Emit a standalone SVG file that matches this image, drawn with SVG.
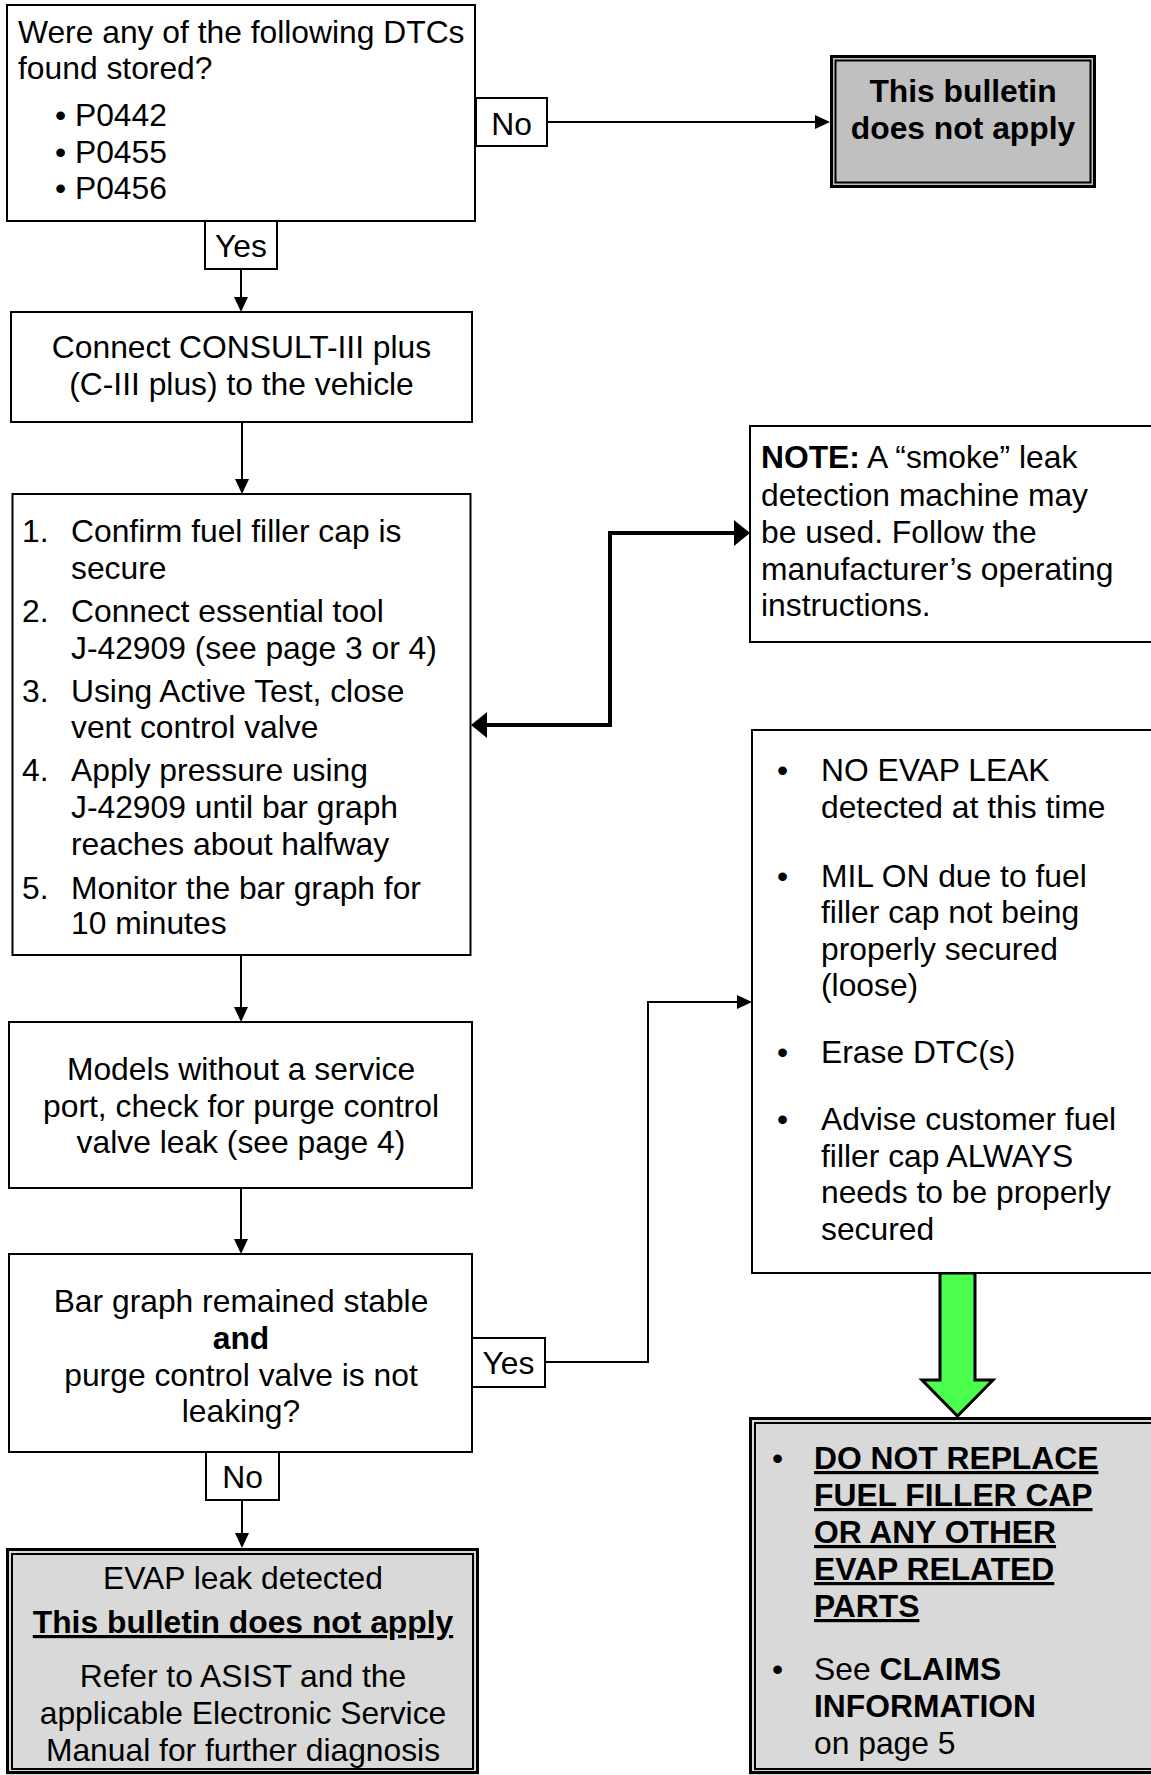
<svg xmlns="http://www.w3.org/2000/svg" width="1151" height="1775" viewBox="0 0 1151 1775">
<style>
text{font-family:"Liberation Sans",Arial,sans-serif;font-size:31.8px;fill:#000}
.c{text-anchor:middle}
.b{font-weight:bold}
.u{text-decoration:underline}
.box{fill:#fff;stroke:#000;stroke-width:2}
.lbl{fill:#fff;stroke:#000;stroke-width:2}
.thin{fill:none;stroke:#000;stroke-width:2}
.thick{fill:none;stroke:#000;stroke-width:4}
.g1{fill:#c0c0c0}
.g2{fill:#d9d9d9}
.ob{fill:none;stroke:#000;stroke-width:3}
.ib{fill:none;stroke:#000;stroke-width:2}
</style>
<defs>
<marker id="arr" markerUnits="userSpaceOnUse" viewBox="0 0 15 14" refX="0" refY="7" markerWidth="15" markerHeight="14" orient="auto">
<path d="M0,0 L15,7 L0,14 z" fill="#000"/>
</marker>
<marker id="arrT" markerUnits="userSpaceOnUse" viewBox="0 0 16 26" refX="0" refY="13" markerWidth="16" markerHeight="26" orient="auto-start-reverse">
<path d="M0,0 L16,13 L0,26 z" fill="#000"/>
</marker>
</defs>

<g id="connectors">
<path class="thin" d="M547,122 H815" marker-end="url(#arr)"/>
<path class="thin" d="M241,269 V297" marker-end="url(#arr)"/>
<path class="thin" d="M242,422 V479" marker-end="url(#arr)"/>
<path class="thin" d="M241,955 V1007" marker-end="url(#arr)"/>
<path class="thin" d="M241,1188 V1239" marker-end="url(#arr)"/>
<path class="thin" d="M242,1500 V1533" marker-end="url(#arr)"/>
<path class="thin" d="M545,1362 H648 V1002 H737" marker-end="url(#arr)"/>
<path class="thick" d="M487,725 H610 V533 H734" marker-start="url(#arrT)" marker-end="url(#arrT)"/>
<path d="M940,1273 H975 V1380 H993 L957.5,1416 L922,1380 H940 Z" fill="#4dff4d" stroke="#000" stroke-width="3" stroke-linejoin="miter"/>
</g>

<g id="n-dtc">
<rect class="box" x="7" y="5" width="468" height="216"/>
<text x="18" y="43">Were any of the following DTCs</text>
<text x="18" y="79">found stored?</text>
<text x="55" y="126">• P0442</text>
<text x="55" y="162.5">• P0455</text>
<text x="55" y="199">• P0456</text>
</g>

<g id="l-no1">
<rect class="lbl" x="476" y="98" width="71" height="48"/>
<text class="c" x="511.5" y="135">No</text>
</g>

<g id="n-notapply">
<rect class="g1" x="830" y="55" width="266" height="133"/>
<rect class="ob" x="831.5" y="56.5" width="263" height="130"/>
<rect class="ib" x="835.5" y="60.5" width="255" height="122"/>
<text class="c b" x="963" y="102">This bulletin</text>
<text class="c b" x="963" y="139">does not apply</text>
</g>

<g id="l-yes1">
<rect class="lbl" x="205" y="221" width="72" height="48"/>
<text class="c" x="241" y="257">Yes</text>
</g>

<g id="n-consult">
<rect class="box" x="11" y="312" width="461" height="110"/>
<text class="c" x="241.5" y="358">Connect CONSULT-III plus</text>
<text class="c" x="241.5" y="395">(C-III plus) to the vehicle</text>
</g>

<g id="n-steps">
<rect class="box" x="12.5" y="494" width="458" height="461"/>
<text x="22" y="542">1.</text><text x="71" y="542">Confirm fuel filler cap is</text>
<text x="71" y="579">secure</text>
<text x="22" y="622">2.</text><text x="71" y="622">Connect essential tool</text>
<text x="71" y="659">J-42909 (see page 3 or 4)</text>
<text x="22" y="702">3.</text><text x="71" y="702">Using Active Test, close</text>
<text x="71" y="738">vent control valve</text>
<text x="22" y="781">4.</text><text x="71" y="781">Apply pressure using</text>
<text x="71" y="818">J-42909 until bar graph</text>
<text x="71" y="855">reaches about halfway</text>
<text x="22" y="899">5.</text><text x="71" y="899">Monitor the bar graph for</text>
<text x="71" y="934">10 minutes</text>
</g>

<g id="n-note">
<rect class="box" x="750" y="426" width="410" height="216"/>
<text x="761" y="468"><tspan class="b">NOTE:</tspan> A “smoke” leak</text>
<text x="761" y="506">detection machine may</text>
<text x="761" y="543">be used. Follow the</text>
<text x="761" y="580">manufacturer’s operating</text>
<text x="761" y="616">instructions.</text>
</g>

<g id="n-noleak">
<rect class="box" x="752" y="730" width="408" height="543"/>
<text x="777" y="781">•</text><text x="821" y="781">NO EVAP LEAK</text>
<text x="821" y="818">detected at this time</text>
<text x="777" y="887">•</text><text x="821" y="887">MIL ON due to fuel</text>
<text x="821" y="923">filler cap not being</text>
<text x="821" y="960">properly secured</text>
<text x="821" y="996">(loose)</text>
<text x="777" y="1063">•</text><text x="821" y="1063">Erase DTC(s)</text>
<text x="777" y="1130">•</text><text x="821" y="1130">Advise customer fuel</text>
<text x="821" y="1167">filler cap ALWAYS</text>
<text x="821" y="1203">needs to be properly</text>
<text x="821" y="1240">secured</text>
</g>

<g id="n-purge">
<rect class="box" x="9" y="1022" width="463" height="166"/>
<text class="c" x="241" y="1080">Models without a service</text>
<text class="c" x="241" y="1117">port, check for purge control</text>
<text class="c" x="241" y="1153">valve leak (see page 4)</text>
</g>

<g id="n-stable">
<rect class="box" x="9" y="1254" width="463" height="198"/>
<text class="c" x="241" y="1312">Bar graph remained stable</text>
<text class="c b" x="241" y="1349">and</text>
<text class="c" x="241" y="1386">purge control valve is not</text>
<text class="c" x="241" y="1422">leaking?</text>
</g>

<g id="l-yes2">
<rect class="lbl" x="472" y="1338" width="73" height="49"/>
<text class="c" x="508.5" y="1374">Yes</text>
</g>

<g id="l-no2">
<rect class="lbl" x="206" y="1452" width="73" height="48"/>
<text class="c" x="242.5" y="1488">No</text>
</g>

<g id="n-leak">
<rect class="g2" x="6" y="1548" width="473" height="227"/>
<rect class="ob" x="7.5" y="1549.5" width="470" height="223"/>
<rect class="ib" x="12" y="1554" width="461" height="215"/>
<text class="c" x="243" y="1589">EVAP leak detected</text>
<text class="c b u" x="243" y="1633">This bulletin does not apply</text>
<text class="c" x="243" y="1687">Refer to ASIST and the</text>
<text class="c" x="243" y="1724">applicable Electronic Service</text>
<text class="c" x="243" y="1761">Manual for further diagnosis</text>
</g>

<g id="n-donot">
<rect class="g2" x="749" y="1417" width="410" height="358"/>
<rect class="ob" x="750.5" y="1418.5" width="410" height="354"/>
<rect class="ib" x="755" y="1423" width="410" height="346"/>
<text x="772" y="1469">•</text>
<text class="b u" x="814" y="1469">DO NOT REPLACE</text>
<text class="b u" x="814" y="1506">FUEL FILLER CAP</text>
<text class="b u" x="814" y="1543">OR ANY OTHER</text>
<text class="b u" x="814" y="1580">EVAP RELATED</text>
<text class="b u" x="814" y="1617">PARTS</text>
<text x="772" y="1680">•</text>
<text x="814" y="1680">See <tspan class="b">CLAIMS</tspan></text>
<text class="b" x="814" y="1717">INFORMATION</text>
<text x="814" y="1754">on page 5</text>
</g>
</svg>
